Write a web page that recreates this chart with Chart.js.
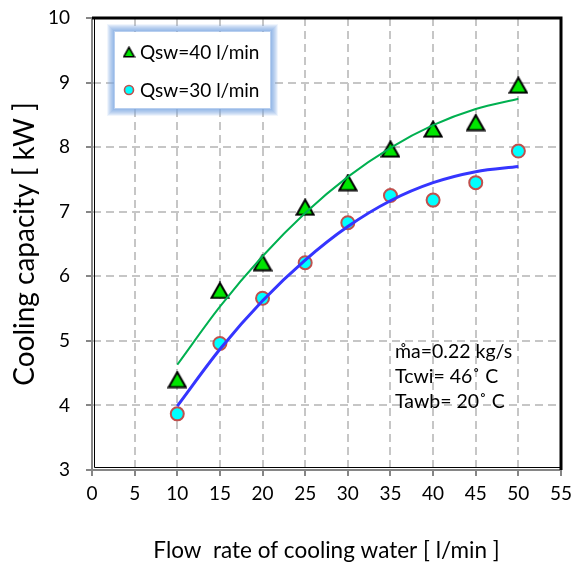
<!DOCTYPE html>
<html>
<head>
<meta charset="utf-8">
<script src="https://cdn.jsdelivr.net/npm/chart.js@4.4.0/dist/chart.umd.min.js"></script>
<style>
  html, body { margin: 0; padding: 0; background: #fff; }
</style>
</head>
<body>
<canvas id="chart" width="572" height="568"></canvas>
<script>
// flow rate of cooling water [l/min]
const flowRates = [10, 15, 20, 25, 30, 35, 40, 45, 50];
// measured cooling capacity [kW]
const qsw40 = [4.40, 5.78, 6.21, 7.07, 7.45, 7.97, 8.28, 8.38, 8.96];
const qsw30 = [3.87, 4.96, 5.66, 6.21, 6.83, 7.25, 7.18, 7.45, 7.94];
// trend lines
const trend40 = [4.63, 5.53, 6.31, 6.98, 7.54, 7.99, 8.34, 8.59, 8.75];
const trend30 = [3.99, 4.87, 5.62, 6.25, 6.77, 7.17, 7.45, 7.62, 7.70];

const xTicks = [0, 55, 5];   // min, max, step
const yTicks = [3, 10, 1];
const noteLines = ['m\u030Aa=0.22 kg/s', 'Tcwi= 46\u02DA C', 'Tawb= 20\u02DA C'];

const FONT = 'Lato, "Open Sans", sans-serif';

function triangleImage(w, h, lw) {
    const c = document.createElement('canvas');
    c.width = w; c.height = h;
    const g = c.getContext('2d');
    g.beginPath();
    g.moveTo(w / 2, lw / 2 + 0.5);
    g.lineTo(w - lw / 2 - 0.5, h - lw / 2 - 0.5);
    g.lineTo(lw / 2 + 0.5, h - lw / 2 - 0.5);
    g.closePath();
    g.fillStyle = '#00e600';
    g.fill();
    g.lineWidth = lw;
    g.lineJoin = 'miter';
    g.strokeStyle = '#000';
    g.stroke();
    return c;
}

const triBig = triangleImage(20, 18, 2);
const triSmall = triangleImage(13, 12, 1.6);

function xy(xs, ys) {
    return xs.map((x, i) => ({x: x, y: ys[i]}));
}

// keep tick labels from pushing the plot area around
function fixBox(size) {
    return function (scale) {
        if (scale.isHorizontal()) scale.height = size; else scale.width = size;
        scale.paddingTop = 0;
        scale.paddingBottom = 0;
        scale.paddingLeft = 0;
        scale.paddingRight = 0;
    };
}

const framePlugin = {
    id: 'frame',
    beforeDatasetsDraw(chart) {
        const {ctx, chartArea: a} = chart;
        ctx.save();
        ctx.strokeStyle = '#000';
        ctx.lineWidth = 3;
        ctx.beginPath();
        ctx.moveTo(a.left, a.top);
        ctx.lineTo(a.right, a.top);
        ctx.lineTo(a.right, a.bottom);
        ctx.stroke();
        ctx.lineWidth = 1;
        ctx.beginPath();
        ctx.moveTo(a.left + 2.5, a.top);
        ctx.lineTo(a.left + 2.5, a.bottom - 2.5);
        ctx.lineTo(a.right, a.bottom - 2.5);
        ctx.stroke();
        ctx.restore();
    }
};

const legendPlugin = {
    id: 'boxLegend',
    afterDatasetsDraw(chart) {
        const ctx = chart.ctx;
        const bx = 115, by = 32, bw = 155, bh = 76;
        ctx.save();
        // soft blue glow around the box
        for (let i = 7; i >= 1; i--) {
            ctx.strokeStyle = 'rgba(120,165,225,' + (0.6 - i * 0.07) + ')';
            ctx.lineWidth = 2;
            ctx.strokeRect(bx - i, by - i, bw + 2 * i, bh + 2 * i);
        }
        ctx.fillStyle = '#fff';
        ctx.fillRect(bx, by, bw, bh);
        ctx.font = '19px ' + FONT;
        ctx.fillStyle = '#000';
        ctx.textBaseline = 'middle';
        const sets = chart.data.datasets.filter(d => d.showInLegend);
        sets.forEach((d, i) => {
            const cy = by + 20 + i * 38;
            if (d.pointStyle === triBig) {
                ctx.drawImage(triSmall, 129 - triSmall.width / 2, cy - triSmall.height / 2);
            } else {
                ctx.beginPath();
                ctx.arc(129, cy, 4.5, 0, Math.PI * 2);
                ctx.fillStyle = d.backgroundColor;
                ctx.fill();
                ctx.lineWidth = 1.6;
                ctx.strokeStyle = d.borderColor;
                ctx.stroke();
                ctx.fillStyle = '#000';
            }
            ctx.fillText(d.label, 140, cy + 1);
        });
        ctx.restore();
    }
};

const notePlugin = {
    id: 'note',
    afterDatasetsDraw(chart) {
        const ctx = chart.ctx;
        ctx.save();
        ctx.font = '19.5px ' + FONT;
        ctx.fillStyle = '#000';
        ctx.textBaseline = 'middle';
        noteLines.forEach((t, i) => ctx.fillText(t, 395, 352 + i * 25));
        ctx.restore();
    }
};

const gridOpts = {
    color: '#c6c6c6',
    lineWidth: 2,
    tickLength: 6,
    tickColor: '#868686',
    tickWidth: 2
};
const borderOpts = { color: '#868686', width: 2, dash: [8, 5] };

new Chart(document.getElementById('chart'), {
    type: 'scatter',
    data: {
        datasets: [
            {
                label: 'trend 40',
                type: 'line',
                data: xy(flowRates, trend40),
                borderColor: '#00b050',
                borderWidth: 2,
                pointRadius: 0,
                cubicInterpolationMode: 'monotone',
                fill: false,
                order: 0
            },
            {
                label: 'trend 30',
                type: 'line',
                data: xy(flowRates, trend30),
                borderColor: '#3535ff',
                borderWidth: 3,
                pointRadius: 0,
                cubicInterpolationMode: 'monotone',
                fill: false,
                order: 0
            },
            {
                label: 'Qsw=40 l/min',
                data: xy(flowRates, qsw40),
                pointStyle: triBig,
                showInLegend: true,
                order: 1
            },
            {
                label: 'Qsw=30 l/min',
                data: xy(flowRates, qsw30),
                pointStyle: 'circle',
                pointRadius: 6.5,
                pointHoverRadius: 6.5,
                backgroundColor: '#00ffff',
                borderColor: '#c0504d',
                borderWidth: 2,
                showInLegend: true,
                order: 1
            }
        ]
    },
    options: {
        responsive: false,
        animation: false,
        devicePixelRatio: 1,
        layout: { padding: { top: 18, right: 11, left: 0, bottom: 0 } },
        plugins: {
            legend: { display: false },
            tooltip: { enabled: false }
        },
        scales: {
            x: {
                type: 'linear',
                min: xTicks[0],
                max: xTicks[1],
                ticks: { stepSize: xTicks[2], padding: 6, color: '#000', font: { family: FONT, size: 19 } },
                grid: gridOpts,
                border: borderOpts,
                title: {
                    display: true,
                    text: 'Flow  rate of cooling water [ l/min ]',
                    color: '#000',
                    font: { family: FONT, size: 22.5 },
                    padding: { top: 0, bottom: 4 }
                },
                afterFit: fixBox(98)
            },
            y: {
                min: yTicks[0],
                max: yTicks[1],
                ticks: { stepSize: yTicks[2], padding: 16, color: '#000', font: { family: FONT, size: 19 } },
                grid: gridOpts,
                border: borderOpts,
                title: {
                    display: true,
                    text: 'Cooling capacity [ kW ]',
                    color: '#000',
                    font: { family: FONT, size: 28 },
                    padding: { top: 8, bottom: 0 }
                },
                afterFit: fixBox(92)
            }
        }
    },
    plugins: [framePlugin, legendPlugin, notePlugin]
});
</script>
</body>
</html>
